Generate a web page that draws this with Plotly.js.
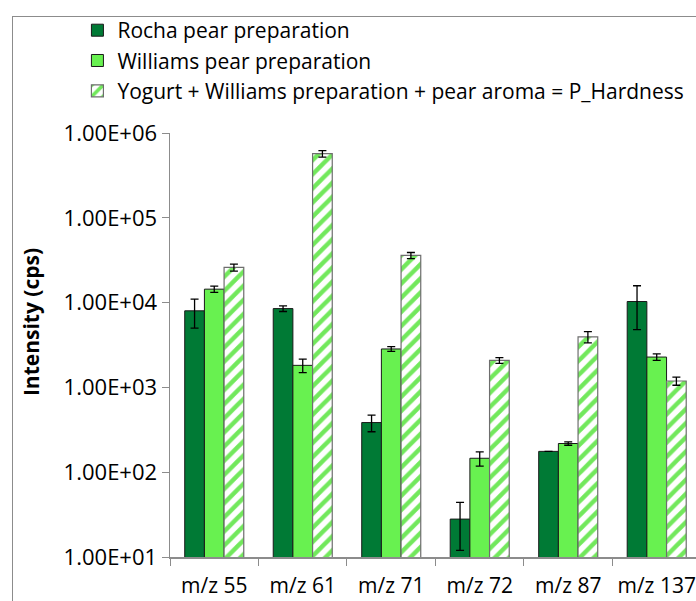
<!DOCTYPE html>
<html>
<head>
<meta charset="utf-8">
<script src="https://cdn.plot.ly/plotly-3.0.1.min.js"></script>
<style>
  html, body { margin: 0; padding: 0; background: #fff; }
  #wrap { position: relative; width: 696px; height: 601px; }
  #chart { position: absolute; left: 0; top: 0; width: 696px; height: 601px; }
  #frame { position: absolute; left: 12px; top: 16px; width: 700px; height: 600px;
           border-top: 1.5px solid #8c8c8c; border-left: 1.5px solid #8c8c8c; pointer-events: none; }
</style>
</head>
<body>
<div id="wrap">
  <div id="chart"></div>
  <div id="frame"></div>
</div>
<script>
const categories = ["m/z 55", "m/z 61", "m/z 71", "m/z 72", "m/z 87", "m/z 137"];

const seriesNames = [
  "Rocha pear preparation",
  "Williams pear preparation",
  "Yogurt + Williams preparation + pear aroma = P_Hardness"
];

const rochaValues    = [8000, 8500, 385, 28, 176, 10300];
const rochaErrors    = [3000, 650, 85, 16, 0, 5500];

const williamsValues = [14400, 1820, 2840, 146, 218, 2280];
const williamsErrors = [1200, 330, 180, 28, 10, 200];

const yogurtValues   = [26000, 570000, 36000, 2080, 3950, 1190];
const yogurtErrors   = [2500, 50000, 3000, 160, 600, 130];

const yTickVals  = [10, 100, 1000, 10000, 100000, 1000000];
const yTickTexts = ["1.00E+01", "1.00E+02", "1.00E+03", "1.00E+04", "1.00E+05", "1.00E+06"];

const yTitle = "Intensity (cps)";

const FONT = "'Open Sans', Lato, sans-serif";

function errBar(arr) {
  return { type: "data", array: arr, visible: true, color: "#000", thickness: 1.3, width: 4 };
}

const traces = [
  {
    type: "bar", name: seriesNames[0], x: categories, y: rochaValues,
    error_y: errBar(rochaErrors),
    marker: { color: "#007A35", line: { color: "#1a1a1a", width: 1 } }
  },
  {
    type: "bar", name: seriesNames[1], x: categories, y: williamsValues,
    error_y: errBar(williamsErrors),
    marker: { color: "#68F150", line: { color: "#1a1a1a", width: 1 } }
  },
  {
    type: "bar", name: seriesNames[2], x: categories, y: yogurtValues,
    error_y: errBar(yogurtErrors),
    marker: {
      color: "#ffffff",
      line: { color: "#6e6e6e", width: 1.2 },
      pattern: { shape: "/", fgcolor: "#72E85C", bgcolor: "#ffffff", size: 10, solidity: 0.45 }
    }
  }
];

const layout = {
  width: 696, height: 601,
  margin: { l: 170, r: 0, t: 133, b: 44 },
  paper_bgcolor: "#ffffff", plot_bgcolor: "#ffffff",
  barmode: "group", bargap: 0.333, bargroupgap: 0,
  font: { family: FONT, size: 21, color: "#000" },
  showlegend: true,
  legend: {
    x: -0.176, y: 1.29, xanchor: "left", yanchor: "top",
    bgcolor: "rgba(0,0,0,0)", font: { family: FONT, size: 21, color: "#000" },
    traceorder: "normal", itemwidth: 30, tracegroupgap: 0
  },
  xaxis: {
    type: "category", range: [-0.5, 5.444],
    showline: true, linecolor: "#8c8c8c", linewidth: 1.5,
    ticks: "outside", tickson: "boundaries", ticklen: 7, tickcolor: "#8c8c8c",
    ticklabelstandoff: 9,
    showgrid: false, zeroline: false, fixedrange: true,
    tickfont: { family: FONT, size: 21, color: "#000" }
  },
  yaxis: {
    type: "log", range: [1, 6],
    tickvals: yTickVals, ticktext: yTickTexts,
    showline: true, linecolor: "#8c8c8c", linewidth: 1.5,
    ticks: "outside", ticklen: 7, tickcolor: "#8c8c8c",
    showgrid: false, zeroline: false, fixedrange: true,
    tickfont: { family: FONT, size: 22, color: "#000" }
  },
  annotations: [{
    text: "<b>" + yTitle + "</b>", textangle: -90, showarrow: false,
    xref: "paper", yref: "paper", x: -0.2643, y: 0.554,
    xanchor: "center", yanchor: "middle",
    font: { family: FONT, size: 21, color: "#000" }
  }]
};

Plotly.newPlot("chart", traces, layout, { displayModeBar: false, staticPlot: true });
</script>
</body>
</html>
